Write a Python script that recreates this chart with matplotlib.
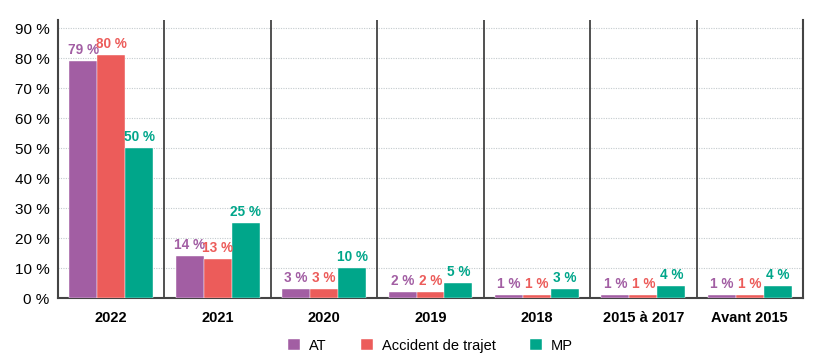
import numpy as np
import matplotlib.pyplot as plt

plt.rcParams['font.family'] = ['Liberation Sans', 'DejaVu Sans']

# Data
categories = ['2022', '2021', '2020', '2019', '2018', '2015 à 2017', 'Avant 2015']
series = ['AT', 'Accident de trajet', 'MP']
at = [79, 14, 3, 2, 1, 1, 1]
trajet = [81, 13, 3, 2, 1, 1, 1]
mp = [50, 25, 10, 5, 3, 4, 4]
trajet_labels = ['80', '13', '3', '2', '1', '1', '1']
colors = ['#A25EA3', '#EC5C5A', '#00A68A']

fig = plt.figure(figsize=(8.18, 3.59), dpi=100)
ax = fig.add_axes([58 / 818, 61 / 359, 745 / 818, 278 / 359])

x = np.arange(len(categories))
width = 0.263
values = [at, trajet, mp]
texts = [[str(v) for v in at], trajet_labels, [str(v) for v in mp]]
for i, (vals, col) in enumerate(zip(values, colors)):
    pos = x + (i - 1) * width
    ax.bar(pos, vals, width, color=col, label=series[i], zorder=3,
           edgecolor='white', linewidth=0.3)
    for p, v, t in zip(pos, vals, texts[i]):
        ax.text(p, v + 1.3, t + ' %', ha='center', va='bottom', color=col,
                fontsize=9.8, fontweight='bold', zorder=4)

ax.set_xlim(-0.5, len(categories) - 0.5)
ax.set_ylim(0, 92.7)
ax.set_yticks(range(0, 91, 10))
ax.set_yticklabels([f'{t} %' for t in range(0, 91, 10)], fontsize=11)
ax.set_xticks(x)
ax.set_xticklabels(categories, fontsize=10.5, fontweight='bold')
ax.tick_params(axis='both', length=0)
ax.tick_params(axis='x', pad=9)
ax.tick_params(axis='y', pad=6)

ax.yaxis.grid(True, linestyle=(0, (1, 1.2)), color='#c4cbce', linewidth=0.8, zorder=0)
for b in np.arange(0.5, len(categories) - 1, 1):
    ax.axvline(b, color='#333333', linewidth=1.2, zorder=2)

ax.spines['top'].set_visible(False)
for s in ['left', 'right', 'bottom']:
    ax.spines[s].set_color('#444444')
    ax.spines[s].set_linewidth(1.5)

ax.legend(loc='lower center', bbox_to_anchor=(0.5, -0.245), ncol=3, frameon=False,
          fontsize=10.5, handlelength=0.8, handleheight=0.8, columnspacing=2.4,
          handletextpad=0.6)

fig.savefig('out.png', dpi=100)
